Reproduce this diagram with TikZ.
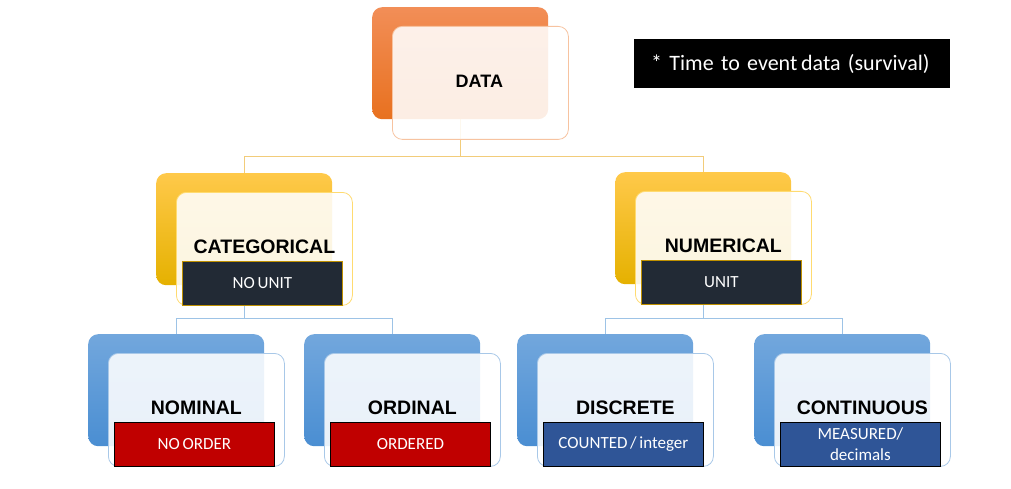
\documentclass[tikz,border=0pt]{standalone}
\usepackage{fontspec}
\setmainfont{Liberation Sans}
\newfontfamily\tagfont{Carlito}
\newfontfamily\notefont[WordSpace=0.7]{Carlito}
\usetikzlibrary{positioning,calc,backgrounds}
\definecolor{orangetop}{HTML}{F28E57}
\definecolor{orangebot}{HTML}{E8711F}
\definecolor{orangerim}{HTML}{F7C3A0}
\definecolor{yellowtop}{HTML}{FFC94A}
\definecolor{yellowmid}{HTML}{FFC000}
\definecolor{yellowbot}{HTML}{E5B100}
\definecolor{yellowrim}{HTML}{FFDB70}
\definecolor{bluetop}{HTML}{72A7DD}
\definecolor{bluebot}{HTML}{4A8ED2}
\definecolor{bluerim}{HTML}{A8C8E8}
\definecolor{tagdark}{HTML}{222A35}
\definecolor{taggold}{HTML}{BF9000}
\definecolor{tagred}{HTML}{C00000}
\definecolor{tagblue}{HTML}{2F5597}
\definecolor{goldlink}{HTML}{F2CC7A}
\definecolor{bluelink}{HTML}{9DC3E6}

\begin{document}
\begin{tikzpicture}[x=1pt,y=-1pt,
 backbox/.style={rectangle, rounded corners=10pt, inner sep=0, minimum width=176pt, minimum height=112pt, anchor=north west},
 orangeback/.style={backbox, top color=orangetop, bottom color=orangebot},
 yellowback/.style={backbox, top color=yellowtop, middle color=yellowmid, bottom color=yellowbot},
 blueback/.style={backbox, top color=bluetop, bottom color=bluebot},
 frontbox/.style={rectangle, rounded corners=10pt, inner sep=0, minimum width=176pt, minimum height=113pt, anchor=north west, fill=white, fill opacity=.88, draw=#1, line width=.8pt},
 heading/.style={font=\fontsize{19.5}{22}\selectfont\bfseries},
 tag/.style={rectangle, inner sep=0, minimum width=160pt, minimum height=44pt, anchor=south west, text=white, align=center, line width=.8pt, font=\tagfont\fontsize{17}{21}\selectfont},
 darktag/.style={tag, fill=tagdark, draw=taggold},
 redtag/.style={tag, fill=tagred, draw=black},
 bluetag/.style={tag, fill=tagblue, draw=black},
 notebox/.style={rectangle, fill=black, text=white, anchor=north west, minimum width=316pt, minimum height=49pt, inner xsep=17pt, inner ysep=0, text width=282pt, align=left, font=\notefont\fontsize{22}{26}\selectfont},
 link/.style={line width=.8pt}
]
\useasboundingbox (0,0) rectangle (1011,489);

% top level
\node[orangeback] (data-back) at (372,7) {};
\node[frontbox=orangerim] (data-front) at ([shift={(20pt,-19pt)}]data-back.north west) {};
\node[heading, font=\fontsize{18}{20}\selectfont\bfseries] (data-title) at ([xshift=-1pt,yshift=1.5pt]data-front.center) {DATA};

\node[notebox] (note) at (634,39) {* Time to event\,data (survival)};

% the six sub levels
\foreach \nd/\x/\y/\backstyle/\rimcol/\headtext/\tagstyle/\tagtext in {
 cat/156/173/yellowback/yellowrim/CATEGORICAL/darktag/{NO UNIT},
 num/615/172/yellowback/yellowrim/NUMERICAL/darktag/UNIT,
 nom/88/334/blueback/bluerim/NOMINAL/redtag/{NO ORDER},
 ord/304/334/blueback/bluerim/ORDINAL/redtag/ORDERED,
 dis/517/334/blueback/bluerim/DISCRETE/bluetag/{COUNTED / integer},
 con/754/334/blueback/bluerim/CONTINUOUS/bluetag/{MEASURED/\\decimals}}{
 \node[\backstyle] (\nd-back) at (\x,\y) {};
 \node[frontbox=\rimcol] (\nd-front) at ([shift={(20pt,-19pt)}]\nd-back.north west) {};
 \node[\tagstyle] (\nd-tag) at ([xshift=6pt]\nd-front.south west) {\tagtext};
 \node[heading] (\nd-title) at ([xshift=2pt,yshift=14pt]\nd-tag.north) {\headtext};
}

% connectors
\begin{scope}[on background layer]
\coordinate (bus-top) at (0,156);
\coordinate (bus-low) at (0,318);
\draw[link, goldlink] (data-back.south) -- (data-back.south |- bus-top) -| (cat-back.north);
\draw[link, goldlink] (data-back.south |- bus-top) -| (num-back.north);
\foreach \p/\c in {cat/nom,cat/ord,num/dis,num/con}
 \draw[link, bluelink] (\p-back.south) -- (\p-back.south |- bus-low) -| (\c-back.north);
\end{scope}
\end{tikzpicture}
\end{document}
